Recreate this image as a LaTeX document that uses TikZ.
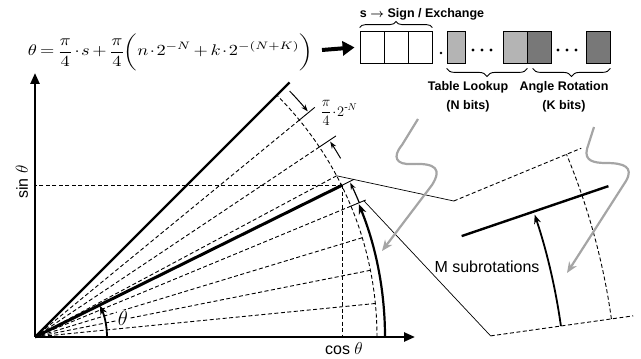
\documentclass[tikz,border=0pt]{standalone}
\usepackage{amsmath}
\usepackage{graphicx}
\usepackage{fontspec}
\setmainfont{Liberation Serif}
\setsansfont{Liberation Sans}
\usetikzlibrary{arrows.meta,calc,decorations.pathreplacing}
\begin{document}
\begin{tikzpicture}[x=1pt,y=1pt,
  dsh/.style={dash pattern=on 4pt off 2.5pt, line width=0.9pt},
  axisline/.style={line width=2.4pt, -{Triangle[length=11pt,width=9pt]}},
  thinline/.style={line width=0.7pt},
  tick/.style={line width=0.9pt},
  arcarrow/.style={line width=1.8pt, -{Stealth[length=9pt,width=7pt]}},
  dimarrow/.style={line width=1pt, -{Stealth[length=7pt,width=5pt]}},
  grayarrow/.style={line width=2.2pt, draw={rgb,255:red,165;green,165;blue,165}, -{Stealth[length=11pt,width=9pt]}},
  bitbox/.style={draw, line width=0.8pt, minimum height=32pt, inner sep=0pt},
  lbl/.style={font=\sffamily\bfseries\fontsize{12.5}{19}\selectfont, align=center, inner sep=0pt},
  brc/.style={decorate, line width=0.9pt},
  bitdot/.style={fill=black, inner sep=0pt, minimum size=3.4pt, circle}
]
\useasboundingbox (0,0) rectangle (641,359);

% ---------- equation and register ----------
\node[inner sep=0pt] (eq) at (170.5,307) {\resizebox*{285pt}{37pt}{\thinmuskip=1mu\medmuskip=2.5mu\thickmuskip=3mu$\displaystyle \theta=\frac{\pi}{4}\!\cdot\! s+\frac{\pi}{4}\!\biggl(n\!\cdot\! 2^{-N}+k\!\cdot\! 2^{-(N+K)}\biggr)$}};
\coordinate (arrS) at (322,309);

\node[bitbox, minimum width=24pt, fill=white] (b1) at (372,312) {};
\node[bitbox, minimum width=24pt, fill=white] (b2) at (396,312) {};
\node[bitbox, minimum width=24pt, fill=white] (b3) at (420,312) {};
\node[bitdot, minimum size=2.6pt] (pt) at (441,306) {};
\node[bitbox, minimum width=18pt, fill={rgb,255:red,180;green,180;blue,180}] (l1) at (456,312) {};
\node[bitdot] (da1) at (473,309) {};
\node[bitdot] (da2) at (482,309) {};
\node[bitdot] (da3) at (491,309) {};
\node[bitbox, minimum width=24pt, fill={rgb,255:red,180;green,180;blue,180}] (l2) at (515,312) {};
\node[bitbox, minimum width=24pt, fill={rgb,255:red,120;green,120;blue,120}] (d1) at (539,312) {};
\node[bitdot] (db1) at (558,309) {};
\node[bitdot] (db2) at (567,309) {};
\node[bitdot] (db3) at (576,309) {};
\node[bitbox, minimum width=24pt, fill={rgb,255:red,120;green,120;blue,120}] (d2) at (598,312) {};

\draw[line width=4pt, -{Triangle[length=12pt,width=14pt]}, shorten >=5pt] (arrS) -- (b1.west);

\draw[brc, decoration={brace, amplitude=6pt}] ([yshift=3pt]b1.north west) -- ([yshift=3pt]b3.north east);
\node[lbl] (sgn) at (422,345) {s $\boldsymbol{\rightarrow}$ Sign / Exchange};

\draw[brc, decoration={brace, mirror, amplitude=8pt}] ([yshift=-5pt]l1.south west) -- ([yshift=-5pt]l2.south east);
\draw[brc, decoration={brace, mirror, amplitude=8pt}] ([yshift=-5pt,xshift=6pt]d1.south west) -- ([yshift=-5pt]d2.south east);
\node[lbl] (tl) at (468,262.5) {Table Lookup\\(N bits)};
\node[lbl] (ar) at (564,262.5) {Angle Rotation\\(K bits)};

% ---------- main plot ----------
\coordinate (O) at (35,22);
\coordinate (xe) at (415,22);
\coordinate (ye) at (35,286);
\coordinate (T) at ($(O)+(26.3:343pt)$);

\foreach \k in {1,...,7} {
  \draw[dsh] (O) -- ($(O)+(\k*5.625:342pt)$);
}
\draw[dsh] ($(O)+(0:342pt)$) arc[start angle=0, end angle=45, radius=342pt];
\draw[dsh] (T) -- (T |- O);
\draw[dsh] (T) -- (T -| O);

\draw[line width=2.4pt] (O) -- ($(O)+(45:360pt)$);
\draw[line width=3pt] (O) -- (T);

% ticks
\draw[tick] ($(O)+(39.375:342pt)$) -- ($(O)+(39.375:362pt)$);
\draw[tick] ($(O)+(33.75:342pt)$) -- ($(O)+(33.75:362pt)$);
\draw[tick] ($(O)+(22.5:342pt)$) -- ($(O)+(22.5:358pt)$);
\draw[tick] (T) -- ($(O)+(26.3:356pt)$);

\draw[dimarrow] ($(O)+(44:354pt)$) arc[start angle=44, end angle=39.6, radius=354pt];
\draw[dimarrow] ($(O)+(30.3:354pt)$) arc[start angle=30.3, end angle=33.5, radius=354pt];
\node[inner sep=0pt, font=\fontsize{14.5}{16}\selectfont] (dim) at (339,246) {$\displaystyle\frac{\pi}{4}\!\cdot\! 2^{\text{-}N}$};

\draw[line width=2.2pt, -{Stealth[length=10pt,width=8pt]}] ($(O)+(0:350pt)$) arc[start angle=0, end angle=22.3, radius=350pt];
\draw[line width=1.2pt, -{Stealth[length=7pt,width=5pt]}] ($(O)+(22.5:351pt)$) arc[start angle=22.5, end angle=26.1, radius=351pt];

\draw[arcarrow] ($(O)+(0:72pt)$) arc[start angle=0, end angle=25.8, radius=72pt];
\node[fill=white, inner sep=0.5pt, font=\fontsize{21}{23}\selectfont] (th) at (123,41) {$\theta$};

\draw[axisline] (O) -- (xe);
\draw[axisline] (O) -- (ye);
\node[rotate=90, font=\sffamily\fontsize{16}{18}\selectfont] (sinl) at (22,177) {sin $\theta$};
\node[font=\sffamily\fontsize{16}{18}\selectfont] (cosl) at (344,10) {cos $\theta$};

% ---------- magnified inset ----------
\coordinate (P) at (-58,-54);
\coordinate (iu) at ($(P)+(22.5:554pt)$);
\coordinate (il) at ($(P)+(8:554pt)$);
\draw[thinline] ($(O)+(28.125:342pt)$) -- (iu);
\draw[thinline] ($(O)+(22.5:356pt)$) -- (il);
\draw[dsh] (iu) -- ($(P)+(22.5:692pt)$);
\draw[dsh] (il) -- ($(P)+(8:698pt)$);
\draw[dsh] ($(P)+(8:676pt)$) arc[start angle=8, end angle=22.5, radius=676pt];
\draw[line width=2.4pt] ($(P)+(18.8:549pt)$) -- ($(P)+(18.8:704pt)$);
\draw[arcarrow] ($(P)+(8:625pt)$) arc[start angle=8, end angle=18.5, radius=625pt];
\node[font=\sffamily\fontsize{16}{18}\selectfont] (msub) at (487,92) {M subrotations};

% ---------- gray pointers ----------
\coordinate (g1s) at (418,240);
\coordinate (g1e) at (382,108);
\coordinate (g2s) at (594,232);
\coordinate (g2e) at (567,86);
\draw[grayarrow] (g1s) -- (402,214) .. controls (392,202) and (396,194) .. (412,195) .. controls (436,196) and (442,190) .. (432,174) -- (g1e);
\draw[grayarrow] (g2s) -- (587,210) .. controls (584,198) and (594,196) .. (606,196) .. controls (624,196) and (634,192) .. (626,178) -- (g2e);
\end{tikzpicture}
\end{document}
